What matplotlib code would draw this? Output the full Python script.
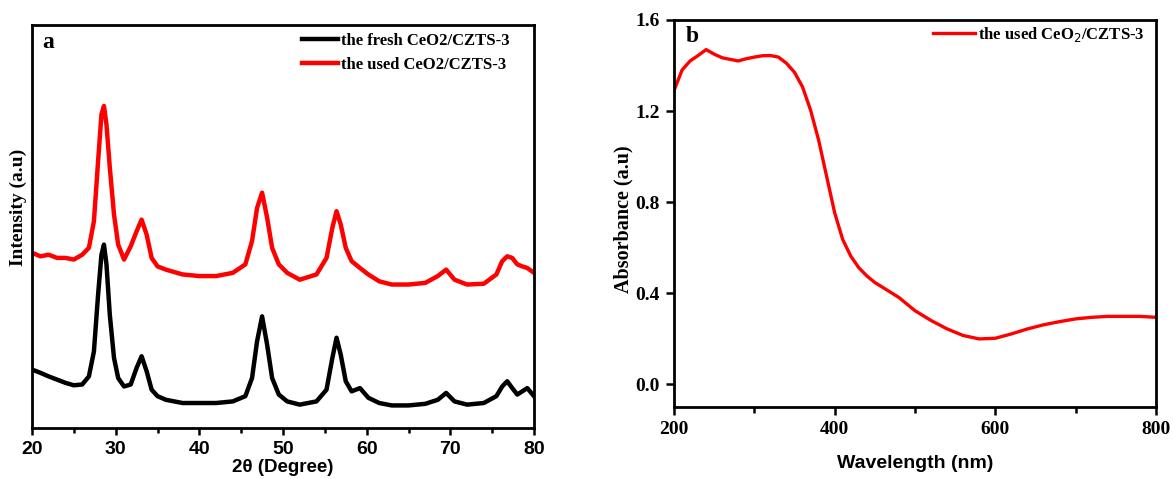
import matplotlib
matplotlib.use("Agg")
import matplotlib.pyplot as plt
from matplotlib.ticker import MultipleLocator

# ---- Panel a: XRD ----
two_theta = [20, 21, 22, 23, 24, 25, 26, 26.8, 27.4, 27.9, 28.3, 28.6, 28.9, 29.3, 29.8, 30.3,
             31, 31.8, 32.5, 33.1, 33.7, 34.3, 35, 36, 38, 40, 42, 44, 45.5, 46.3, 46.9, 47.5,
             48.1, 48.7, 49.5, 50.5, 52, 54, 55.2, 55.9, 56.4, 56.9, 57.5, 58.2, 59.2, 60.2,
             61.5, 63, 65, 67, 68.5, 69.5, 70.5, 72, 74, 75.5, 76.2, 76.8, 77.4, 78, 78.6, 79.2, 80]
fresh = [14.5, 13.7, 12.8, 12.0, 11.2, 10.6, 10.8, 12.8, 19.0, 33.1, 43.0, 45.5, 40.6, 28.1, 17.4, 12.4,
         10.3, 10.8, 14.9, 17.8, 14.1, 9.5, 7.9, 7.0, 6.2, 6.2, 6.2, 6.6, 7.9, 12.4, 21.5, 27.7,
         20.7, 12.4, 8.3, 6.6, 5.8, 6.6, 9.5, 17.4, 22.4, 18.2, 11.6, 9.1, 9.9, 7.5,
         6.2, 5.6, 5.6, 6.0, 7.0, 8.7, 6.6, 5.8, 6.2, 7.9, 10.3, 11.6, 9.9, 8.3, 9.1, 9.9, 7.9]
used = [43.5, 42.6, 43.0, 42.2, 42.2, 41.8, 43.0, 44.7, 51.3, 66.2, 77.8, 79.9, 75.3, 64.6, 53.0, 45.5,
        41.8, 45.1, 48.8, 51.7, 48.0, 42.2, 40.1, 39.3, 38.1, 37.7, 37.7, 38.5, 40.6, 46.4, 54.6, 58.4,
        52.2, 44.7, 40.6, 38.5, 36.8, 38.1, 42.2, 49.7, 53.8, 50.5, 44.7, 41.4, 39.7, 38.1,
        36.4, 35.6, 35.6, 36.0, 37.7, 39.3, 36.8, 35.6, 35.8, 38.1, 41.4, 42.6, 42.2, 40.6, 40.1, 39.7, 38.5]

# ---- Panel b: UV-vis ----
wavelength = [200, 210, 220, 230, 240, 250, 260, 270, 280, 290, 300, 310, 320, 330, 340, 350, 360,
              370, 380, 390, 400, 410, 420, 430, 440, 450, 460, 470, 480, 500, 520, 540, 560, 580,
              600, 620, 640, 660, 680, 700, 720, 740, 760, 780, 800]
absorbance = [1.29, 1.38, 1.42, 1.444, 1.47, 1.45, 1.434, 1.427, 1.42, 1.43, 1.437, 1.443, 1.444,
              1.437, 1.41, 1.37, 1.306, 1.204, 1.073, 0.913, 0.753, 0.636, 0.563, 0.512, 0.476,
              0.447, 0.425, 0.403, 0.381, 0.323, 0.280, 0.243, 0.214, 0.199, 0.202, 0.221, 0.243,
              0.261, 0.275, 0.287, 0.294, 0.298, 0.298, 0.298, 0.294]

serif = "Liberation Serif"
sans = "Liberation Sans"

W, H = 1173, 479
fig = plt.figure(figsize=(W / 100, H / 100), dpi=100)


def px_axes(x0, x1, y0, y1):
    return fig.add_axes([x0 / W, 1 - y1 / H, (x1 - x0) / W, (y1 - y0) / H])


ax1 = px_axes(32, 534, 25, 428)
ax2 = px_axes(674, 1156, 20, 407)

for ax in (ax1, ax2):
    for s in ax.spines.values():
        s.set_linewidth(2.0)

# Panel a
ax1.plot(two_theta, fresh, color="black", lw=3.2, label="the fresh CeO2/CZTS-3")
ax1.plot(two_theta, used, color="#ff0000", lw=3.2, label="the used CeO2/CZTS-3")
ax1.set_xlim(20, 80)
ax1.set_ylim(0, 100)
ax1.set_yticks([])
ax1.xaxis.set_major_locator(MultipleLocator(10))
ax1.xaxis.set_minor_locator(MultipleLocator(5))
ax1.tick_params(axis="x", which="major", direction="out", length=5, width=1.8, pad=4)
ax1.tick_params(axis="x", which="minor", direction="out", length=3.5, width=1.8)
for lab in ax1.get_xticklabels():
    lab.set_fontfamily(sans)
    lab.set_fontweight("bold")
    lab.set_fontsize(14)
ax1.set_xlabel("2θ (Degree)", fontfamily=sans, fontweight="bold", fontsize=13.5, labelpad=1)
ax1.set_ylabel("Intensity (a.u)", fontfamily=serif, fontweight="bold", fontsize=14)
ax1.yaxis.set_label_coords(-0.009, 0.548)
ax1.text(0.02, 0.943, "a", transform=ax1.transAxes, fontfamily=serif, fontweight="bold",
         fontsize=17, va="baseline", ha="left")
ax1.legend(loc="upper left", bbox_to_anchor=(0.538, 0.98), frameon=False,
           prop={"family": serif, "weight": "bold", "size": 12},
           handlelength=2.15, handletextpad=0.2, labelspacing=0.45, borderpad=0,
           borderaxespad=0)

# Panel b
ax2.plot(wavelength, absorbance, color="#ff0000", lw=2.4, label="the used CeO$_2$/CZTS-3")
ax2.set_xlim(200, 800)
ax2.set_ylim(-0.1, 1.6)
ax2.set_xticks([200, 400, 600, 800])
ax2.xaxis.set_minor_locator(MultipleLocator(100))
ax2.set_yticks([0.0, 0.4, 0.8, 1.2, 1.6])
ax2.set_yticklabels(["0.0", "0.4", "0.8", "1.2", "1.6"])
ax2.tick_params(axis="both", which="major", direction="out", length=6, width=1.8, pad=4)
ax2.tick_params(axis="x", which="minor", direction="out", length=4, width=1.8)
for lab in ax2.get_xticklabels() + ax2.get_yticklabels():
    lab.set_fontfamily(serif)
    lab.set_fontweight("bold")
    lab.set_fontsize(14)
ax2.set_xlabel("Wavelength (nm)", fontfamily=sans, fontweight="bold", fontsize=14, labelpad=12)
ax2.set_ylabel("Absorbance (a.u)", fontfamily=serif, fontweight="bold", fontsize=14.5)
ax2.yaxis.set_label_coords(-0.085, 0.486)
ax2.text(0.025, 0.943, "b", transform=ax2.transAxes, fontfamily=serif, fontweight="bold",
         fontsize=17, va="baseline", ha="left")
ax2.legend(loc="upper left", bbox_to_anchor=(0.537, 0.987), frameon=False,
           prop={"family": serif, "weight": "bold", "size": 12},
           handlelength=2.5, handletextpad=0.2, borderpad=0, borderaxespad=0)

fig.savefig("out.png", dpi=100)
